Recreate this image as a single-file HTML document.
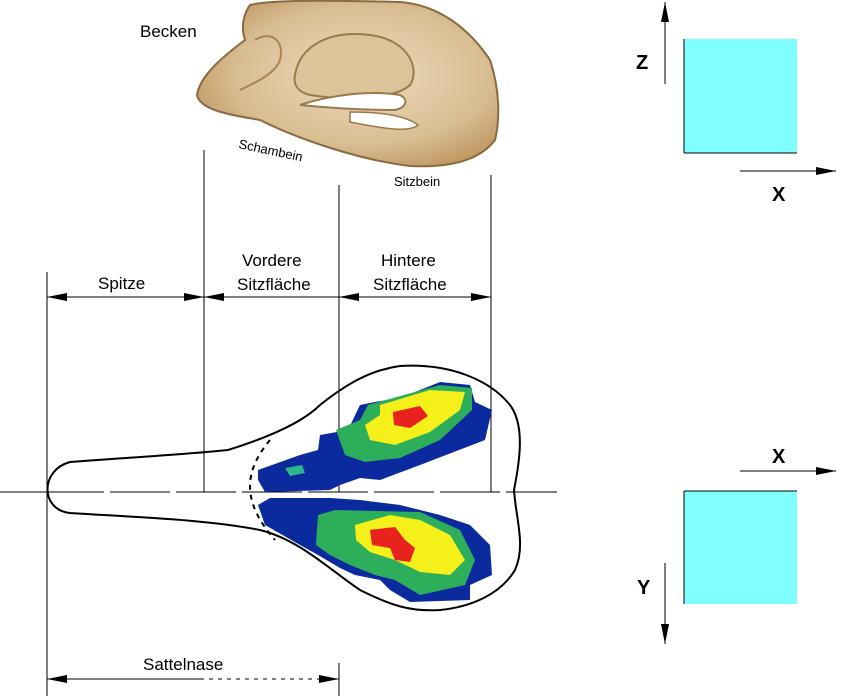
<!DOCTYPE html>
<html><head><meta charset="utf-8"><style>
html,body{margin:0;padding:0;background:#fff;}
svg{display:block;font-family:"Liberation Sans",sans-serif;}
</style></head><body>
<svg width="845" height="696" viewBox="0 0 845 696" xmlns="http://www.w3.org/2000/svg">
<defs>
<marker id="a" viewBox="0 0 20 8" refX="20" refY="4" markerWidth="20" markerHeight="8" orient="auto-start-reverse" markerUnits="userSpaceOnUse"><path d="M0,0 L20,4 L0,8 Z" fill="#000"/></marker>
<radialGradient id="bone" cx="0.55" cy="0.45" r="0.6"><stop offset="0" stop-color="#eddcc0"/><stop offset="0.7" stop-color="#d9bd92"/><stop offset="1" stop-color="#c09a65"/></radialGradient>
</defs>
<!-- pelvis -->
<path d="M250,5 C270,0 320,0 400,2 C440,5 470,30 490,60 C500,90 500,120 495,140 C480,160 450,168 410,166 C360,160 300,140 260,120 C230,115 200,110 197,95 C200,75 225,55 245,40 C240,25 245,12 250,5 Z" fill="url(#bone)" stroke="#8a6a40" stroke-width="2"/>
<path d="M295,75 C300,45 330,30 370,35 C410,40 420,70 410,85 C395,100 340,100 310,95 C298,92 293,85 295,75 Z" fill="#dcc49a" stroke="#9a7a4c" stroke-width="2"/>
<path d="M300,105 C330,95 370,90 400,95 C410,100 405,108 395,110 C360,110 330,108 300,105 Z" fill="#fff" stroke="#9a7a4c" stroke-width="2"/>
<path d="M350,112 C380,112 405,115 418,125 C410,132 390,130 350,122 Z" fill="#fff" stroke="#9a7a4c" stroke-width="1.5"/>
<path d="M255,40 C270,30 285,40 280,60 C275,75 250,85 240,90" fill="none" stroke="#a88455" stroke-width="2"/>
<text x="140" y="37" font-size="17">Becken</text>
<text x="238" y="148" font-size="13" transform="rotate(12 238 148)">Schambein</text>
<text x="394" y="186" font-size="13">Sitzbein</text>
<!-- vertical lines -->
<g stroke="#000" stroke-width="1">
<line x1="47" y1="272" x2="47" y2="696"/>
<line x1="204" y1="150" x2="204" y2="492"/>
<line x1="339" y1="185" x2="339" y2="492"/>
<line x1="339" y1="663" x2="339" y2="696"/>
<line x1="491" y1="175" x2="491" y2="492"/>
<line x1="47" y1="297" x2="204" y2="297" marker-start="url(#a)" marker-end="url(#a)"/>
<line x1="204" y1="297" x2="339" y2="297" marker-start="url(#a)"/>
<line x1="339" y1="297" x2="491" y2="297" marker-start="url(#a)" marker-end="url(#a)"/>
<line x1="47" y1="679" x2="200" y2="679" marker-start="url(#a)"/>
<line x1="200" y1="679" x2="339" y2="679" stroke-dasharray="4,5" marker-end="url(#a)"/>
<line x1="0" y1="492" x2="44" y2="492"/>
<line x1="44" y1="492" x2="520" y2="492" stroke-dasharray="60,6"/>
<line x1="520" y1="492" x2="557" y2="492"/>
</g>
<text x="98" y="289" font-size="17">Spitze</text>
<text x="242" y="266" font-size="17">Vordere</text>
<text x="237" y="290" font-size="17">Sitzfläche</text>
<text x="381" y="266" font-size="17">Hintere</text>
<text x="373" y="290" font-size="17">Sitzfläche</text>
<text x="143" y="670" font-size="17">Sattelnase</text>
<!-- pressure maps -->
<g>
<path d="M258,470 L300,455 L318,450 L320,435 L348,430 L360,405 L375,402 L400,398 L440,382 L470,385 L475,402 L492,410 L485,440 L420,465 L380,480 L360,478 L340,485 L330,490 L265,492 L258,480 Z" fill="#0a2a9e"/>
<path d="M336,430 L360,420 L368,405 L440,385 L472,388 L472,410 L440,440 L400,458 L365,462 L345,455 Z" fill="#2cae5a"/>
<path d="M365,425 L380,415 L380,405 L430,390 L465,392 L460,410 L430,432 L395,445 L370,440 Z" fill="#f5f01a"/>
<path d="M393,412 L420,406 L428,416 L410,428 L394,425 Z" fill="#e8221c"/>
<path d="M285,468 L302,465 L305,473 L290,476 Z" fill="#2cb88a"/>
<path d="M258,505 L270,498 L330,498 L360,500 L400,505 L440,515 L470,525 L490,545 L492,575 L470,585 L470,600 L410,602 L390,590 L380,580 L355,575 L340,568 L318,555 L300,545 L265,525 Z" fill="#0a2a9e"/>
<path d="M318,515 L335,510 L420,512 L460,530 L475,560 L465,585 L420,595 L395,580 L375,575 L350,565 L330,555 L316,545 Z" fill="#2cae5a"/>
<path d="M355,525 L390,515 L420,520 L450,535 L465,560 L450,575 L420,572 L395,560 L370,552 L356,540 Z" fill="#f5f01a"/>
<path d="M370,530 L395,527 L405,540 L415,548 L410,562 L395,560 L390,548 L372,545 Z" fill="#e8221c"/>
</g>
<!-- saddle outline -->
<path d="M70,462 C120,458 180,455 228,450 C260,440 300,425 320,405 C345,385 370,370 400,366 C450,363 490,380 510,405 C525,425 520,460 514,490 C516,520 526,545 515,570 C500,595 470,607 440,610 C410,612 390,605 360,590 C330,570 300,540 260,530 C210,520 150,518 70,513 C40,510 40,470 70,462 Z" fill="none" stroke="#000" stroke-width="2"/>
<path d="M270,440 C245,470 240,500 275,540" fill="none" stroke="#000" stroke-width="2" stroke-dasharray="5,5"/>
<!-- axes -->
<rect x="684" y="39" width="113" height="114" fill="#80ffff"/>
<line x1="684" y1="39" x2="684" y2="153" stroke="#000"/>
<line x1="684" y1="153" x2="797" y2="153" stroke="#000"/>
<line x1="665" y1="84" x2="665" y2="2" stroke="#000" marker-end="url(#a)"/>
<line x1="740" y1="171" x2="836" y2="171" stroke="#000" marker-end="url(#a)"/>
<text x="636" y="69" font-size="20" font-weight="bold">Z</text>
<text x="772" y="201" font-size="20" font-weight="bold">X</text>
<rect x="684" y="491" width="113" height="113" fill="#80ffff"/>
<line x1="684" y1="491" x2="684" y2="604" stroke="#000"/>
<line x1="684" y1="491" x2="797" y2="491" stroke="#000"/>
<line x1="740" y1="471" x2="836" y2="471" stroke="#000" marker-end="url(#a)"/>
<line x1="665" y1="563" x2="665" y2="644" stroke="#000" marker-end="url(#a)"/>
<text x="772" y="463" font-size="20" font-weight="bold">X</text>
<text x="637" y="594" font-size="20" font-weight="bold">Y</text>
</svg>
</body></html>
